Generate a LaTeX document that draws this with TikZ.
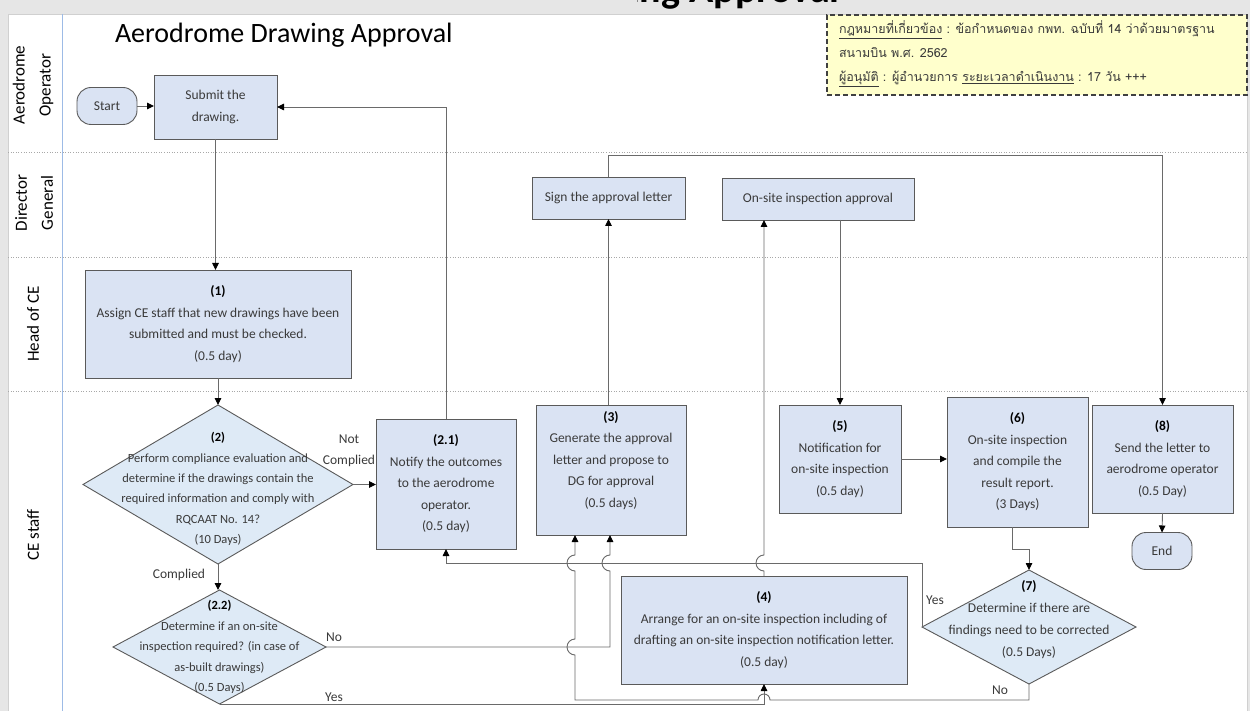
\documentclass[tikz,border=0pt]{standalone}
\usepackage{fontspec}
\setmainfont{Carlito}
\newfontfamily\thaifont[Script=Thai]{Loma}
\usetikzlibrary{arrows.meta,shapes.geometric,calc}

\definecolor{boxfill}{HTML}{DAE3F3}
\definecolor{diafill}{HTML}{DEEAF6}
\definecolor{edge}{HTML}{5A5A5A}
\definecolor{wire}{HTML}{6A6A6A}
\definecolor{ink}{HTML}{3A3A3A}
\definecolor{notefill}{HTML}{FFFFCC}
\definecolor{framegrey}{HTML}{E6E6E6}
\definecolor{frameline}{HTML}{D0D0D0}
\definecolor{lanerule}{HTML}{A8A8A8}
\definecolor{laneblue}{HTML}{9DBBE6}

\tikzset{
  every node/.style={inner sep=0pt, outer sep=0pt},
  stepbox/.style={draw=edge, line width=0.9pt, fill=boxfill, text=ink, align=center,
    font=\fontsize{13.5}{21.5}\selectfont},
  terminal/.style={draw=edge, line width=0.9pt, fill=boxfill, text=ink, rounded corners=14pt,
    minimum width=60pt, minimum height=37pt, font=\fontsize{13.5}{16}\selectfont},
  decision/.style={diamond, draw=edge, line width=0.9pt, fill=diafill},
  dtext/.style={text=ink, align=center, font=\fontsize{12.5}{20.4}\selectfont},
  lanelabel/.style={rotate=90, align=center, text=black, font=\fontsize{17}{26}\selectfont},
  flowlabel/.style={text=ink, align=center, font=\fontsize{13.5}{21.5}\selectfont},
  lane/.style={draw=lanerule, line width=0.6pt, dotted},
  wireline/.style={draw=wire, line width=0.9pt},
  arr/.style={wireline, -{Triangle[length=7pt,width=6.5pt,color=black]}},
  notetext/.style={anchor=base west, text=ink, font=\thaifont\fontsize{12.5}{15}\selectfont},
  sheethead/.style={text=black, font=\bfseries\fontsize{40}{40}\selectfont},
}
\newcommand{\stepnum}[1]{{\bfseries\color{black}#1}}
\newlength{\headlead}

\begin{document}
\settowidth{\headlead}{\bfseries\fontsize{40}{40}\selectfont Aerodrome Drawi}
\begin{tikzpicture}[x=1pt,y=-1pt]
\useasboundingbox (0,0) rectangle (1250,711);

% sheet and frame; only the tail of the sheet heading shows above the page
\fill[framegrey] (0,0) rectangle (1250,711);
\begin{scope}
  \clip (637,0) rectangle (860,14);
  \node[sheethead, anchor=base west] (sheettitle) at ($(640,3)-(\headlead,0)$) {Aerodrome Drawing Approval};
\end{scope}
\fill[white] (8,14) rectangle (1247,720);
\draw[frameline, line width=0.6pt] (8,720) -- (8,14) -- (1247,14) -- (1247,720);

% swimlane rules
\draw[lane] (8,152) -- (1247,152);
\draw[lane] (8,257) -- (1247,257);
\draw[lane] (8,391) -- (1247,391);
\draw[laneblue, line width=1pt] (62,14) -- (62,711);

% lane names
\node[lanelabel] (laneop)  at (33,85)  {Aerodrome\\Operator};
\node[lanelabel] (lanedg)  at (34,203) {Director\\General};
\node[lanelabel] (lanehce) at (33,324) {Head of CE};
\node[lanelabel] (lanece)  at (33,535) {CE staff};

% heading
\node[anchor=base west, text=black, font=\fontsize{28}{28}\selectfont] (title) at (115,43) {Aerodrome Drawing Approval};

% note on the governing rules
\node[draw=black!75, line width=1.2pt, dash pattern=on 5pt off 3pt, fill=notefill,
      minimum width=420pt, minimum height=80pt] (note) at (1037,55) {};
\node[notetext] (note1) at (839,34) {\underline{กฎหมายที่เกี่ยวข้อง} : ข้อกำหนดของ กพท. ฉบับที่ 14 ว่าด้วยมาตรฐาน};
\node[notetext] (note2) at (839,58) {สนามบิน พ.ศ. 2562};
\node[notetext] (note3) at (839,82) {\underline{ผู้อนุมัติ} : ผู้อำนวยการ \underline{ระยะเวลาดำเนินงาน} : 17 วัน +++};

% process steps
\node[terminal] (start) at (107,106) {Start};
\node[stepbox, minimum width=123pt, minimum height=64pt] (submit) at (215.5,107) {Submit the\\drawing.};
\node[stepbox, minimum width=266pt, minimum height=108pt] (s1) at (218,324)
  {\stepnum{(1)}\\Assign CE staff that new drawings have been\\submitted and must be checked.\\(0.5 day)};

\node[decision, minimum width=270pt, minimum height=159pt] (d2) at (218,484.5) {};
\node[dtext] (d2text) at (218,489)
  {\stepnum{(2)}\\Perform compliance evaluation and\\determine if the drawings contain the\\required information and comply with\\RQCAAT No. 14?\\(10 Days)};

\node[stepbox, minimum width=140pt, minimum height=130pt] (s21) at (446,484)
  {\stepnum{(2.1)}\\Notify the outcomes\\to the aerodrome\\operator.\\(0.5 day)};

\node[decision, minimum width=213pt, minimum height=114pt] (d22) at (219.5,647) {};
\node[dtext] (d22text) at (219.5,647)
  {\stepnum{(2.2)}\\Determine if an on-site\\inspection required? (in case of\\as-built drawings)\\(0.5 Days)};

\node[stepbox, minimum width=150pt, minimum height=130pt] (s3) at (611,470)
  {\stepnum{(3)}\\Generate the approval\\letter and propose to\\DG for approval\\(0.5 days)\\ \mbox{}};

\node[stepbox, minimum width=153pt, minimum height=42pt] (sign) at (608.5,198) {Sign the approval letter};
\node[stepbox, minimum width=192pt, minimum height=42pt] (appr) at (818,199) {On-site inspection approval};

\node[stepbox, minimum width=286pt, minimum height=108pt] (s4) at (764,630)
  {\stepnum{(4)}\\Arrange for an on-site inspection including of\\drafting an on-site inspection notification letter.\\(0.5 day)};

\node[stepbox, minimum width=122pt, minimum height=108pt] (s5) at (840,459)
  {\stepnum{(5)}\\Notification for\\on-site inspection\\(0.5 day)};
\node[stepbox, minimum width=141pt, minimum height=130pt] (s6) at (1017.5,462)
  {\stepnum{(6)}\\On-site inspection\\and compile the\\result report.\\(3 Days)};

\node[decision, minimum width=214pt, minimum height=114pt] (d7) at (1029,627) {};
\node[dtext, font=\fontsize{13.5}{22}\selectfont] (d7text) at (1029,620)
  {\stepnum{(7)}\\Determine if there are\\findings need to be corrected\\(0.5 Days)};

\node[stepbox, minimum width=141pt, minimum height=108pt] (s8) at (1162.5,459)
  {\stepnum{(8)}\\Send the letter to\\aerodrome operator\\(0.5 Day)};
\node[terminal] (endn) at (1162,551) {End};

% branch labels
\node[flowlabel] (lnotc) at (349,451) {Not\\Complied};
\node[flowlabel] (lcomp) at (179,575) {Complied};
\node[flowlabel] (lno22) at (334,637) {No};
\node[flowlabel] (lyes22) at (334,697) {Yes};
\node[flowlabel] (lyes7) at (935,600) {Yes};
\node[flowlabel] (lno7) at (1000,690) {No};

% connectors
\draw[arr] (start.east) -- (start.east -| submit.west);
\draw[arr] (submit.south) -- (submit.south |- s1.north);
\draw[arr] (s1.south) -- (s1.south |- d2.north);
\draw[arr] (d2.east) -- (d2.east -| s21.west);
\draw[arr] (d2.south) -- (d2.south |- d22.north);
\draw[arr] (s21.north) |- (submit.east);
\draw[arr] (sign.south |- s3.north) -- (sign.south);
\draw[arr] (sign.north) -- ++(0,-22) -| (s8.north);
\draw[arr] (appr.south -| s5.north) -- (s5.north);
\draw[arr] (s5.east) -- (s5.east -| s6.west);
\draw[arr] ([xshift=-5pt]s6.south) -- ++(0,22) -| (d7.north);
\draw[arr] (s8.south) -- (endn.north);

% (4) up to the approval, hopping the return line
\draw[arr] (s4.north) -- (764,571) arc(270:90:8pt) -- (appr.south -| s4.north);

% (7) findings: back to (2.1)
\draw[arr] (d7.west) |- ($(s21.south)+(0,14)$) -- (s21.south);

% (2.2) no inspection: on to (3)
\draw[arr] (d22.east) -- (610,647) -- (610,571) arc(270:90:8pt) -- ([xshift=-1pt]s3.south);

% (2.2) inspection needed: to (4)
\draw[arr] (d22.south) -| (s4.south);

% (7) no findings: on to (3)
\draw[arr] (d7.south) -- (1029,700) -- (770,700) arc(0:180:6pt) -- (575,700)
  -- (575,655) arc(270:90:8pt) -- (575,571) arc(270:90:8pt) -- ([xshift=-36pt]s3.south);

\end{tikzpicture}
\end{document}
